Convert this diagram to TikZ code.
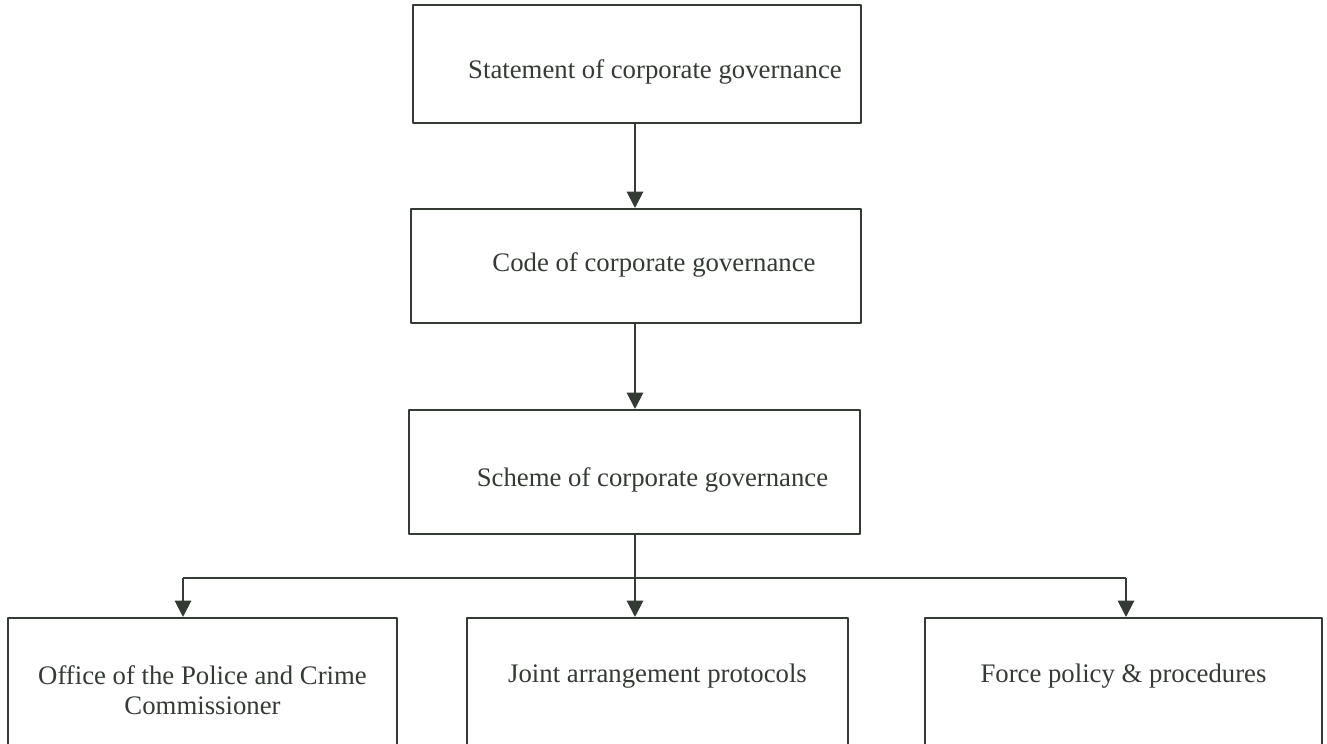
\documentclass[tikz,border=0pt]{standalone}
\usepackage{fontspec}
\setmainfont{Liberation Serif}
\usetikzlibrary{arrows.meta}
\definecolor{ink}{RGB}{52,58,52}

\begin{document}
\begin{tikzpicture}[x=0.4pt, y=-0.4pt, line join=round,
    font=\fontsize{10.7}{12}\selectfont, color=ink, text=ink,
    govbox/.style={draw, line width=0.8pt, inner sep=0pt, align=center},
    toprow/.style={govbox, text height=12pt, text depth=0.6pt,
        execute at begin node={\hspace*{14.4pt}}},
    lowrow/.style={govbox, text height=6pt, text depth=7.6pt, minimum height=53.6pt},
    link/.style={line width=0.8pt},
    arr/.style={link, -{Triangle[width=6.5pt, length=6.5pt]}}]
    \useasboundingbox (0,0) rectangle (1327,744);

    % Chain of governance documents
    \node[toprow, minimum width=179.2pt, minimum height=47.2pt] (stmt)   at (637, 64)  {Statement of corporate governance};
    \node[toprow, minimum width=180pt,   minimum height=45.6pt,
          text height=6.8pt, text depth=2.2pt] (code)   at (636, 266) {Code of corporate governance};
    \node[toprow, minimum width=180.4pt, minimum height=49.6pt] (scheme) at (634.5, 472) {Scheme of corporate governance};

    % Bottom row, boxes run past the lower edge
    \node[lowrow, minimum width=155.6pt, text height=24.4pt, text depth=0.4pt] (opcc) at (202.5, 685) {Office of the Police and Crime\\Commissioner};
    \node[lowrow, minimum width=152.4pt] (joint) at (657.5, 685)  {Joint arrangement protocols};
    \node[lowrow, minimum width=158.8pt] (force) at (1123.5, 685) {Force policy \& procedures};

    % Ends of the branch line
    \coordinate (busL) at (183, 578);
    \coordinate (busR) at (1126, 578);

    \draw[arr] (stmt.south -| 635,0) -- (code.north -| 635,0);
    \draw[arr] (code.south -| 635,0) -- (scheme.north -| 635,0);
    \draw[arr] (scheme.south -| 635,0) -- (joint.north -| 635,0);
    \draw[link] (busL) -- (busR);
    \draw[arr] (busL) -- (busL |- opcc.north);
    \draw[arr] (busR) -- (busR |- force.north);
\end{tikzpicture}
\end{document}
